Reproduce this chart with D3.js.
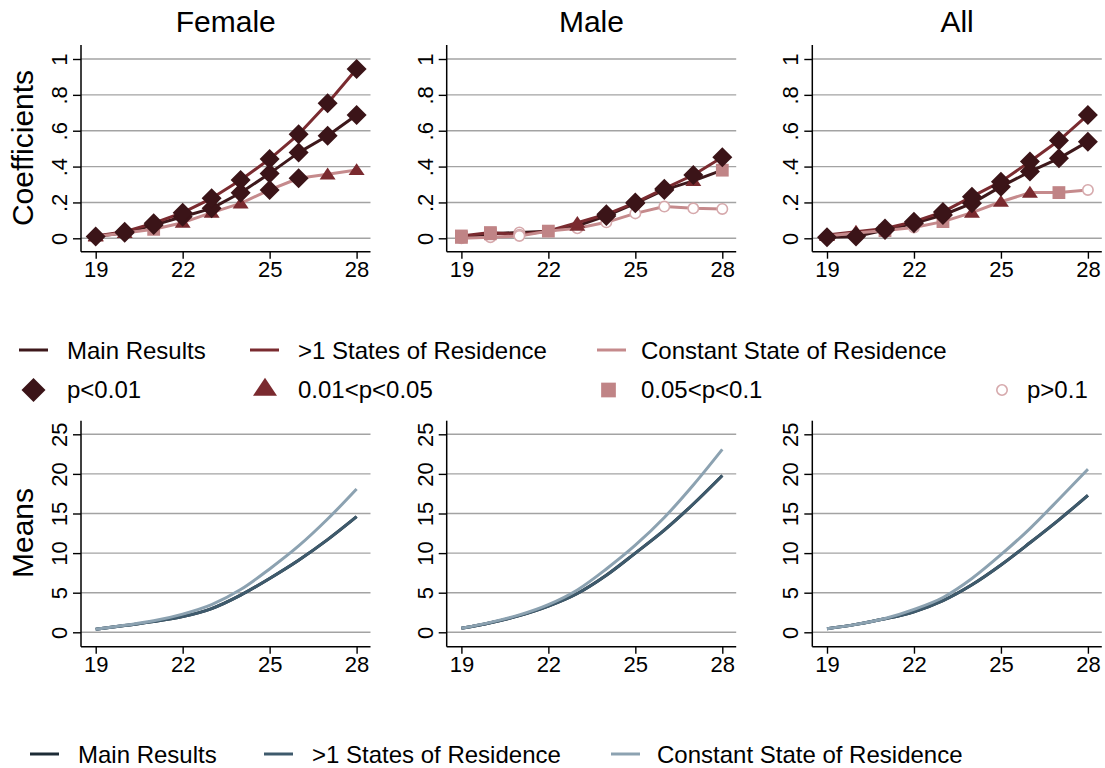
<!DOCTYPE html>
<html>
<head>
<meta charset="utf-8">
<script src="https://cdn.jsdelivr.net/npm/d3@7"></script>
<style>
  html, body { margin: 0; padding: 0; background: #fff; }
  svg { display: block; font-family: "Liberation Sans", Arial, sans-serif; }
</style>
</head>
<body>
<svg id="chart" width="1105" height="768"></svg>
<script>
// Ages on the horizontal axis
const ages = [19, 20, 21, 22, 23, 24, 25, 26, 27, 28];
const panelTitles = ["Female", "Male", "All"];
const xTicks = [19, 22, 25, 28];
const coefTicks = [0, 0.2, 0.4, 0.6, 0.8, 1];
const coefTickLabels = ["0", ".2", ".4", ".6", ".8", "1"];
const meanTicks = [0, 5, 10, 15, 20, 25];
const meanTickLabels = ["0", "5", "10", "15", "20", "25"];
const seriesNames = ["Main Results", ">1 States of Residence", "Constant State of Residence"];
const sigNames = ["p<0.01", "0.01<p<0.05", "0.05<p<0.1", "p>0.1"];

// Coefficients by sample (a: p<0.01, b: 0.01<p<0.05, c: 0.05<p<0.1, d: p>0.1)
const coefFemaleMain  = [0.010, 0.031, 0.074, 0.120, 0.167, 0.254, 0.362, 0.478, 0.572, 0.688];
const coefFemaleMulti = [0.013, 0.037, 0.084, 0.143, 0.223, 0.325, 0.442, 0.580, 0.753, 0.944];
const coefFemaleConst = [0.010, 0.030, 0.050, 0.087, 0.143, 0.195, 0.270, 0.335, 0.357, 0.381];
const sigFemaleMain   = ["a","a","a","a","a","a","a","a","a","a"];
const sigFemaleMulti  = ["b","a","a","a","a","a","a","a","a","a"];
const sigFemaleConst  = ["b","b","c","b","b","b","a","a","b","b"];

const coefMaleMain  = [0.005, 0.025, 0.033, 0.040, 0.070, 0.125, 0.195, 0.270, 0.320, 0.380];
const coefMaleMulti = [0.013, 0.032, 0.020, 0.041, 0.087, 0.134, 0.199, 0.277, 0.353, 0.452];
const coefMaleConst = [0.000, 0.006, 0.013, 0.040, 0.056, 0.089, 0.139, 0.177, 0.167, 0.164];
const sigMaleMain   = ["c","c","d","c","b","a","a","a","b","c"];
const sigMaleMulti  = ["c","c","d","d","b","a","a","a","a","a"];
const sigMaleConst  = ["d","d","d","d","d","d","d","d","d","d"];

const coefAllMain  = [0.006, 0.010, 0.046, 0.084, 0.130, 0.195, 0.288, 0.372, 0.446, 0.539];
const coefAllMulti = [0.019, 0.037, 0.055, 0.093, 0.147, 0.232, 0.316, 0.428, 0.545, 0.688];
const coefAllConst = [0.013, 0.030, 0.043, 0.060, 0.093, 0.143, 0.204, 0.255, 0.255, 0.270];
const sigAllMain   = ["a","a","a","a","a","a","a","a","a","a"];
const sigAllMulti  = ["b","b","a","a","a","a","a","a","a","a"];
const sigAllConst  = ["b","b","c","d","c","b","b","b","c","d"];

// Means by sample
const meanFemaleMain  = [0.38, 0.85, 1.35, 1.98, 3.00, 4.70, 6.80, 9.10, 11.70, 14.60];
const meanFemaleMulti = [0.38, 0.85, 1.35, 1.98, 3.00, 4.70, 6.80, 9.10, 11.70, 14.60];
const meanFemaleConst = [0.38, 0.88, 1.45, 2.30, 3.50, 5.40, 8.00, 10.90, 14.30, 18.10];
const meanMaleMain  = [0.50, 1.20, 2.10, 3.30, 4.90, 7.20, 10.00, 12.90, 16.20, 19.80];
const meanMaleMulti = [0.50, 1.20, 2.10, 3.30, 4.90, 7.20, 10.00, 12.90, 16.20, 19.80];
const meanMaleConst = [0.50, 1.25, 2.20, 3.50, 5.35, 8.00, 11.00, 14.50, 18.60, 23.10];
const meanAllMain  = [0.45, 1.00, 1.70, 2.60, 4.00, 6.00, 8.50, 11.30, 14.20, 17.30];
const meanAllMulti = [0.45, 1.00, 1.70, 2.60, 4.00, 6.00, 8.50, 11.30, 14.20, 17.30];
const meanAllConst = [0.45, 1.00, 1.75, 2.90, 4.40, 6.80, 9.80, 13.10, 16.80, 20.60];

const coefPanels = [
  { main: coefFemaleMain, multi: coefFemaleMulti, cons: coefFemaleConst, sMain: sigFemaleMain, sMulti: sigFemaleMulti, sCons: sigFemaleConst },
  { main: coefMaleMain, multi: coefMaleMulti, cons: coefMaleConst, sMain: sigMaleMain, sMulti: sigMaleMulti, sCons: sigMaleConst },
  { main: coefAllMain, multi: coefAllMulti, cons: coefAllConst, sMain: sigAllMain, sMulti: sigAllMulti, sCons: sigAllConst }
];
const meanPanels = [
  { main: meanFemaleMain, multi: meanFemaleMulti, cons: meanFemaleConst },
  { main: meanMaleMain, multi: meanMaleMulti, cons: meanMaleConst },
  { main: meanAllMain, multi: meanAllMulti, cons: meanAllConst }
];

// Styling
const coefLineColors = ["#3d181b", "#7a2b30", "#c58a8c"];
const meanLineColors = ["#1d2b36", "#3e5a6c", "#8ca2b1"];
const sigColors = { a: "#3b1418", b: "#7a2a2f", c: "#c08486", d: "#d6a9ac" };
const gridColor = "#a3a3a3";

const svg = d3.select("#chart");

const panelLeft = [81, 446.7, 812.3];
const panelWidth = 289.5;
const xPad0 = 14.7, xPad1 = 275.6;

const topFrame = { top: 45, bottom: 251.7, y0: 238.3, y1: 59 };
const botFrame = { top: 420.7, bottom: 646.7, y0: 632.3, y1: 434.3 };

function markerPath(type, s) {
  const p = d3.path();
  if (type === "a") {
    p.moveTo(0, -s); p.lineTo(s, 0); p.lineTo(0, s); p.lineTo(-s, 0); p.closePath();
  } else if (type === "b") {
    const w = s * 0.8, h = s * 0.68;
    p.moveTo(0, -h); p.lineTo(w, h * 0.75); p.lineTo(-w, h * 0.75); p.closePath();
  } else if (type === "c") {
    const h = s * 0.64;
    p.rect(-h, -h, 2 * h, 2 * h);
  }
  return p.toString();
}

function drawMarker(g, type, x, y, s) {
  if (type === "d") {
    g.append("circle").attr("cx", x).attr("cy", y).attr("r", s * 0.52)
      .attr("fill", "#fff").attr("stroke", sigColors.d).attr("stroke-width", 1.6);
  } else {
    g.append("path").attr("d", markerPath(type, s))
      .attr("transform", `translate(${x},${y})`)
      .attr("fill", sigColors[type]);
  }
}

function drawFrame(g, left, frame, yScale, ticks, labels, xScale) {
  // grid
  g.append("g").selectAll("line").data(ticks).join("line")
    .attr("x1", left).attr("x2", left + panelWidth)
    .attr("y1", d => yScale(d)).attr("y2", d => yScale(d))
    .attr("stroke", gridColor).attr("stroke-width", 1.4);

  // y axis
  const ya = g.append("g").attr("transform", `translate(${left},0)`)
    .call(d3.axisLeft(yScale).tickValues(ticks).tickSize(8)
      .tickFormat((d, i) => labels[i]));
  ya.select(".domain").remove();
  ya.selectAll(".tick line").attr("stroke", "#000").attr("stroke-width", 1.4);
  ya.selectAll(".tick text")
    .attr("x", null).attr("dy", null).attr("y", null)
    .attr("text-anchor", "middle")
    .attr("transform", "translate(-14,0) rotate(-90)")
    .attr("font-size", 22).attr("fill", "#000")
    .attr("font-family", "Liberation Sans, Arial, sans-serif");
  g.append("line").attr("x1", left).attr("x2", left)
    .attr("y1", frame.top).attr("y2", frame.bottom)
    .attr("stroke", "#000").attr("stroke-width", 1.5);

  // x axis
  const xa = g.append("g").attr("transform", `translate(0,${frame.bottom})`)
    .call(d3.axisBottom(xScale).tickValues(xTicks).tickSize(7).tickFormat(d3.format("d")));
  xa.select(".domain").remove();
  xa.selectAll(".tick line").attr("stroke", "#000").attr("stroke-width", 1.4);
  xa.selectAll(".tick text").attr("font-size", 22).attr("fill", "#000")
    .attr("font-family", "Liberation Sans, Arial, sans-serif");
  g.append("line").attr("x1", left).attr("x2", left + panelWidth)
    .attr("y1", frame.bottom).attr("y2", frame.bottom)
    .attr("stroke", "#000").attr("stroke-width", 1.5);
}

// Coefficient panels
coefPanels.forEach((pd, i) => {
  const left = panelLeft[i];
  const x = d3.scaleLinear().domain([19, 28]).range([left + xPad0, left + xPad1]);
  const y = d3.scaleLinear().domain([0, 1]).range([topFrame.y0, topFrame.y1]);
  const g = svg.append("g");
  drawFrame(g, left, topFrame, y, coefTicks, coefTickLabels, x);

  svg.append("text").attr("x", left + panelWidth / 2).attr("y", 32)
    .attr("text-anchor", "middle").attr("font-size", 30).text(panelTitles[i]);

  const line = d3.line().x((d, j) => x(ages[j])).y(d => y(d));
  const series = [pd.main, pd.multi, pd.cons];
  series.forEach((vals, k) => {
    g.append("path").datum(vals).attr("d", line)
      .attr("fill", "none").attr("stroke", coefLineColors[k])
      .attr("stroke-width", 3).attr("stroke-linejoin", "round");
  });
  const sigs = [pd.sMain, pd.sMulti, pd.sCons];
  const mg = g.append("g");
  ["d", "c", "b", "a"].forEach(type => {
    series.forEach((vals, k) => {
      vals.forEach((v, j) => {
        if (sigs[k][j] === type) drawMarker(mg, type, x(ages[j]), y(v), 10);
      });
    });
  });
});

// Means panels
meanPanels.forEach((pd, i) => {
  const left = panelLeft[i];
  const x = d3.scaleLinear().domain([19, 28]).range([left + xPad0, left + xPad1]);
  const y = d3.scaleLinear().domain([0, 25]).range([botFrame.y0, botFrame.y1]);
  const g = svg.append("g");
  drawFrame(g, left, botFrame, y, meanTicks, meanTickLabels, x);

  const line = d3.line().x((d, j) => x(ages[j])).y(d => y(d)).curve(d3.curveMonotoneX);
  [pd.main, pd.multi, pd.cons].forEach((vals, k) => {
    g.append("path").datum(vals).attr("d", line)
      .attr("fill", "none").attr("stroke", meanLineColors[k])
      .attr("stroke-width", 3).attr("stroke-linejoin", "round");
  });
});

// Row titles
svg.append("text").attr("transform", "translate(33,148) rotate(-90)")
  .attr("text-anchor", "middle").attr("font-size", 30).text("Coefficients");
svg.append("text").attr("transform", "translate(33,533) rotate(-90)")
  .attr("text-anchor", "middle").attr("font-size", 30).text("Means");

// Upper legend: series lines
const legFont = 24;
const lineKeyX = [19, 250, 597];
const lineTextX = [67, 298, 641];
seriesNames.forEach((name, k) => {
  svg.append("line").attr("x1", lineKeyX[k]).attr("x2", lineKeyX[k] + 29)
    .attr("y1", 350).attr("y2", 350)
    .attr("stroke", coefLineColors[k]).attr("stroke-width", 3);
  svg.append("text").attr("x", lineTextX[k]).attr("y", 358.5)
    .attr("font-size", legFont).text(name);
});
// Upper legend: significance markers
const sigKeyX = [33.5, 265, 608.5, 1002];
const sigTextX = [67, 298, 641, 1027];
const sigTypes = ["a", "b", "c", "d"];
const lg = svg.append("g");
sigTypes.forEach((t, k) => {
  const cy = t === "b" ? 388 : 390;
  const s = t === "a" ? 12 : t === "b" ? 15 : t === "c" ? 11.5 : 10;
  drawMarker(lg, t, sigKeyX[k], cy, s);
  svg.append("text").attr("x", sigTextX[k]).attr("y", 398)
    .attr("font-size", legFont).text(sigNames[k]);
});

// Lower legend
const lowKeyX = [30, 264, 611];
const lowTextX = [78, 312, 657];
seriesNames.forEach((name, k) => {
  svg.append("line").attr("x1", lowKeyX[k]).attr("x2", lowKeyX[k] + 29)
    .attr("y1", 754).attr("y2", 754)
    .attr("stroke", meanLineColors[k]).attr("stroke-width", 3);
  svg.append("text").attr("x", lowTextX[k]).attr("y", 763)
    .attr("font-size", legFont).text(name);
});
</script>
</body>
</html>
